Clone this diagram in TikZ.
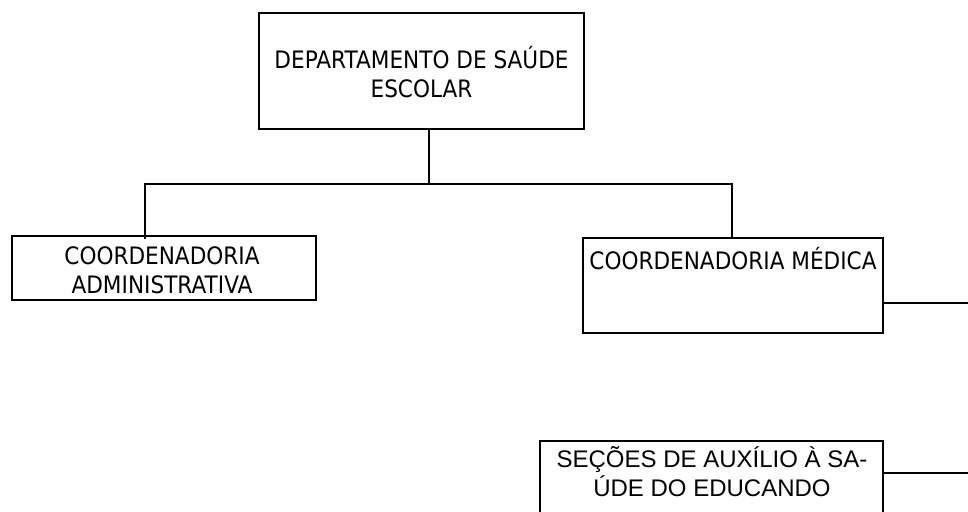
\documentclass[tikz,border=0pt]{standalone}
\usepackage{fontspec}
\newfontfamily\tah[FakeStretch=0.9]{DejaVu Sans}
\newfontfamily\ari{Liberation Sans}
\begin{document}
\begin{tikzpicture}[x=1pt,y=-1pt,
  box/.style={draw=black,line width=2.5pt,inner sep=0pt,fill=white},
  tahtext/.style={font=\tah\fontsize{24}{29}\selectfont,align=center,inner sep=0pt},
  aritext/.style={font=\ari\fontsize{24}{29}\selectfont,align=center,inner sep=0pt},
  con/.style={draw=black,line width=2.5pt}]
\clip (0,0) rectangle (968,511);
\fill[white] (0,0) rectangle (968,511);
% boxes
\node[box,minimum width=325pt,minimum height=116pt] (dep) at (421.5,71) {};
\node[box,minimum width=304pt,minimum height=64pt] (adm) at (164,268) {};
\node[box,minimum width=300pt,minimum height=95pt] (med) at (733,285.5) {};
\node[box,minimum width=343pt,minimum height=120pt] (sec) at (711.5,501) {};
% texts
\node[tahtext] (deptxt) at (421.5,72) {DEPARTAMENTO DE SAÚDE\\ESCOLAR};
\node[tahtext] (admtxt) at (162,270) {COORDENADORIA\\ADMINISTRATIVA};
\node[tahtext] (medtxt) at (733,259) {COORDENADORIA MÉDICA};
\node[aritext] (sectxt) at (712,472) {SEÇÕES DE AUXÍLIO À SA-\\ÚDE DO EDUCANDO};
% connectors
\coordinate (bar) at (429,184);
\coordinate (jl) at (145,184);
\coordinate (jr) at (732,184);
\coordinate (medend) at (968,303);
\coordinate (secend) at (968,473);
\draw[con] (dep.south -| bar) -- (bar);
\draw[con] ([yshift=-4pt]jl |- adm.north) -- (jl) -- (jr) -- ([yshift=-2pt]jr |- med.north);
\draw[con] (med.east |- medend) -- (medend);
\draw[con] (sec.east |- secend) -- (secend);
\end{tikzpicture}
\end{document}
